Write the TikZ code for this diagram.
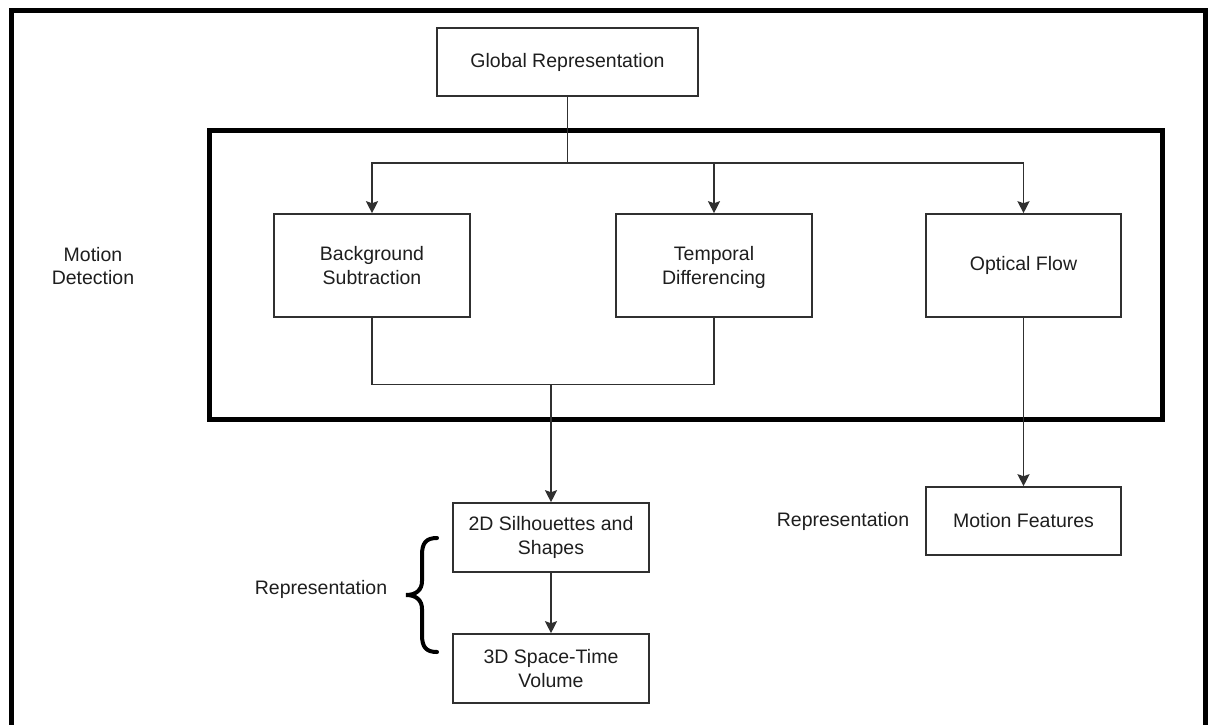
\documentclass[tikz,border=0pt]{standalone}
\usepackage{fontspec}
\setmainfont{Liberation Sans}
\usetikzlibrary{arrows.meta}
\definecolor{ink}{HTML}{1E1E1E}
\definecolor{edge}{HTML}{303030}
\begin{document}
\begin{tikzpicture}[x=1pt,y=-1pt,
  font=\fontsize{19.5}{23.5}\selectfont,
  box/.style={draw=edge,line width=1.6pt,fill=white,text=ink,align=center,
    minimum width=196pt,minimum height=69pt,inner sep=0pt},
  tall/.style={minimum height=103pt},
  lbl/.style={text=ink,align=center,inner sep=0pt},
  link/.style={draw=edge,line width=1.6pt},
  arr/.style={link,-{Stealth[length=12pt,width=12pt,inset=2pt]}},
  frame/.style={draw=black,line width=5pt}]
\useasboundingbox (0,0) rectangle (1213,724);
\clip (0,0) rectangle (1213,724);
\fill[white] (0,0) rectangle (1213,724);

% outer frame (bottom edge runs past the page)
\draw[frame] (11.5,745) -- (11.5,10.5) -- (1205,10.5) -- (1205,745);

% motion detection group
\draw[frame] (209.5,130) rectangle (1162,419);

% boxes
\node[box,minimum width=261pt,minimum height=68pt] (glob) at (567.5,62) {Global Representation};
\node[box,tall] (bgs) at (372,265.5) {Background\\Subtraction};
\node[box,tall] (td) at (714,265.5) {Temporal\\Differencin\smash{g}};
\node[box,tall,minimum width=195pt] (of) at (1023.5,265.5) {Optical Flow};
\node[box] (sil) at (551,537.5) {2D Silhouettes and\\Shapes};
\node[box] (vol) at (551,668.5) {3D Space-Time\\Volume};
\node[box,minimum width=195pt,minimum height=68pt] (mf) at (1023.5,521) {Motion Features};

% side labels
\node[lbl] (md) at (93,266) {Motion\\Detection};
\node[lbl] (rep1) at (843,521) {Representation};
\node[lbl] (rep2) at (321,589) {Representation};

% connectors
\coordinate (split) at (567.5,163);
\coordinate (merge) at (551,384.5);
\draw[link] (glob.south) -- (split);
\draw[arr] (split) -| (bgs.north);
\draw[arr] (split) -| (td.north);
\draw[arr] (split) -| (of.north);
\draw[link] (bgs.south) -- (bgs.south |- merge) -- (td.south |- merge) -- (td.south);
\draw[arr] (merge) -- (sil.north);
\draw[arr] (sil.south) -- (vol.north);
\draw[arr] (of.south) -- (mf.north);

% curly brace grouping the two representation boxes
\draw[black,line width=4pt,line cap=round]
  (437,538) .. controls (426,538) and (422,543) .. (422,555)
  -- (422,581) .. controls (422,590) and (416,595) .. (406,595)
  .. controls (416,595) and (422,600) .. (422,609)
  -- (422,635) .. controls (422,647) and (426,652) .. (437,652);
\end{tikzpicture}
\end{document}
